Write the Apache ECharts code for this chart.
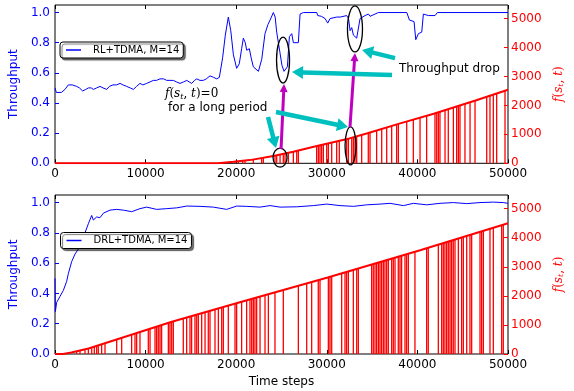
<!DOCTYPE html>
<html><head><meta charset="utf-8">
<script src="https://cdn.jsdelivr.net/npm/echarts@6/dist/echarts.min.js"></script>
<style>html,body{margin:0;padding:0;background:#fff}#c{width:574px;height:391px}</style>
</head><body><div id="c"></div>
<script>
// ---------- data ----------
const xTicks = [0, 10000, 20000, 30000, 40000, 50000];
const leftTicks = [0.0, 0.2, 0.4, 0.6, 0.8, 1.0];
const rightTicks = [0, 1000, 2000, 3000, 4000, 5000];

const rlName = 'RL+TDMA, M=14';
const drlName = 'DRL+TDMA, M=14';

const rlThroughput = [[0,0.50],[150,0.47],[330,0.46],[700,0.47],[1100,0.49],[1470,0.52],[1900,0.52],[2390,0.51],[2700,0.50],[3050,0.48],[3400,0.49],[3680,0.50],[4000,0.50],[4230,0.49],[4600,0.50],[4970,0.51],[5300,0.50],[5700,0.49],[6000,0.51],[6400,0.52],[6800,0.52],[7180,0.53],[7500,0.52],[7910,0.51],[8300,0.50],[8650,0.49],[9000,0.51],[9380,0.53],[9700,0.52],[10120,0.53],[10500,0.54],[10850,0.55],[11200,0.55],[11590,0.56],[12000,0.56],[12330,0.55],[12700,0.55],[13060,0.55],[13400,0.54],[13800,0.53],[14200,0.54],[14540,0.55],[14800,0.54],[15090,0.53],[15400,0.55],[15640,0.56],[16000,0.55],[16370,0.55],[16700,0.56],[17110,0.58],[17500,0.57],[17850,0.56],[18140,0.57],[18500,0.70],[18800,0.85],[19130,0.97],[19400,0.88],[19690,0.72],[20050,0.63],[20340,0.66],[20600,0.76],[20790,0.83],[21000,0.80],[21160,0.75],[21450,0.76],[21650,0.70],[21890,0.64],[22100,0.63],[22450,0.61],[22630,0.60],[22820,0.69],[23000,0.70],[23180,0.86],[23500,0.92],[23740,0.95],[24100,1.00],[24300,0.97],[24470,0.87],[24840,0.73],[25050,0.65],[25280,0.61],[25650,0.64],[25870,0.84],[26130,0.86],[26310,0.80],[26860,0.80],[27050,0.99],[27410,1.00],[28890,1.00],[29000,0.98],[29180,0.97],[29400,0.975],[29810,0.96],[30100,0.93],[30360,0.96],[31100,0.97],[31300,0.98],[31500,0.97],[32200,0.98],[32400,0.96],[32570,0.88],[32750,0.90],[32940,0.85],[33300,0.83],[33490,0.84],[33670,0.96],[34220,0.98],[34590,0.99],[34780,0.975],[35000,0.98],[35690,1.00],[38830,1.00],[39120,0.95],[39630,0.94],[39820,0.82],[40110,0.86],[40480,0.87],[40660,0.99],[41210,0.98],[41950,0.98],[42210,1.00],[50000,1.00]];

const drlThroughput = [[0,0.50],[40,0.28],[180,0.34],[550,0.38],[920,0.42],[1290,0.48],[1470,0.53],[1840,0.61],[2210,0.66],[2760,0.71],[3310,0.80],[3680,0.86],[4050,0.915],[4230,0.885],[4600,0.905],[4970,0.90],[5340,0.93],[6070,0.95],[6810,0.955],[7540,0.95],[8470,0.94],[9380,0.96],[10120,0.97],[11220,0.955],[12330,0.96],[13430,0.965],[14540,0.977],[16010,0.975],[17480,0.97],[18950,0.955],[20050,0.977],[21160,0.975],[22630,0.97],[23740,0.98],[24840,0.97],[26680,0.972],[28520,0.98],[29990,0.99],[31460,0.98],[32940,0.975],[34410,0.985],[35880,0.99],[36980,0.995],[38450,0.98],[39560,0.995],[41030,0.985],[42500,0.995],[43970,1.0],[45440,0.993],[46910,1.0],[48380,1.003],[49480,1.0],[50000,0.995]];

const rlEnvelope = [[0,0],[18000,0],[19700,50],[21500,110],[24100,250],[26300,400],[28900,600],[32500,860],[34400,1030],[38100,1380],[41800,1710],[46500,2180],[50000,2540]];
const drlEnvelope = [[0,0],[900,0],[1800,50],[3700,190],[7400,560],[12900,1110],[20600,1800],[30100,2630],[40300,3570],[50000,4500]];

const rlDrops = [[18770,23],[19870,56],[20240,68],[20710,84],[20970,92],[21890,131],[22810,180],[23000,190],[24280,262],[24470,275],[24840,300],[25200,325],[25390,338],[25760,363],[26310,401],[26680,429],[26860,443],[28880,598],[29070,612],[29250,625],[29430,638],[29620,652],[29990,679],[30170,692],[30540,719],[31090,759],[31380,779],[32190,838],[32380,851],[32750,882],[32930,898],[33110,915],[33300,932],[33850,981],[34580,1046],[34770,1064],[35500,1133],[36060,1186],[36610,1238],[37160,1291],[37710,1343],[37900,1361],[38820,1444],[39550,1509],[40290,1575],[41020,1640],[41940,1724],[42130,1743],[42310,1761],[42490,1779],[43050,1835],[43410,1871],[43970,1927],[44330,1963],[44520,1982],[44700,2000],[45250,2055],[45810,2111],[46360,2166],[47650,2298],[48010,2335],[48380,2373],[48750,2411],[49670,2505]];

const drlDrops = [[2390,93],[2760,121],[3310,161],[3680,189],[4050,225],[4340,254],[4600,280],[4780,298],[5150,335],[5520,372],[6810,501],[7360,556],[8460,666],[8830,703],[9010,721],[9380,758],[10300,850],[10490,869],[11040,924],[11220,942],[11400,960],[11590,979],[11770,997],[12510,1071],[12690,1089],[12880,1108],[13060,1124],[14160,1223],[14530,1256],[14900,1289],[15080,1305],[15450,1338],[15640,1355],[15820,1372],[16190,1405],[16560,1438],[16920,1470],[17110,1487],[17660,1537],[18030,1570],[18400,1603],[18580,1619],[19130,1668],[19870,1735],[20050,1751],[20600,1800],[21150,1848],[21520,1880],[21710,1897],[21890,1913],[22070,1928],[22260,1945],[22630,1977],[23180,2025],[23550,2058],[24280,2122],[25200,2202],[26860,2347],[27780,2428],[28330,2475],[29060,2539],[29250,2556],[30170,2636],[30350,2653],[30540,2671],[31640,2772],[32010,2806],[32190,2823],[32380,2840],[32930,2891],[33300,2925],[33480,2942],[34950,3077],[35130,3094],[35320,3111],[35500,3128],[35690,3145],[35870,3162],[36050,3178],[36240,3196],[36420,3213],[36610,3230],[36790,3247],[37160,3281],[37340,3298],[37530,3315],[37890,3348],[38080,3366],[38260,3382],[38630,3416],[38810,3433],[39000,3450],[39730,3517],[41020,3639],[41200,3656],[42310,3763],[42680,3798],[42860,3816],[43040,3833],[43230,3851],[43410,3868],[43600,3886],[43780,3904],[43960,3921],[44150,3939],[44520,3975],[44880,4009],[45070,4027],[45440,4063],[45800,4097],[45990,4116],[46910,4204],[47090,4221],[47280,4239],[48010,4309],[48380,4344],[49300,4432],[49480,4450]];

// annotation anchors in top-panel data coords [t, throughput]
const ellipseAnchors = [[25170,0.685],[33110,0.891],[24840,0.038],[32620,0.115]];
const magentaArrows = [[[24950,0.094],[25280,0.526]],[[32560,0.240],[33110,0.731]]];
const cyanArrows = [[[37200,0.585],[26160,0.605]],[[37530,0.698],[33890,0.751]],[[23510,0.307],[24390,0.101]],[[24390,0.340],[32340,0.241]]];
const labelAnchors = {drop:[37970,0.626], fzero:[12140,0.46], longp:[12470,0.37]};

// ---------- chart ----------
const FONT = 'DejaVu Sans';
const BLUE = '#0000ff', RED = '#ff0000';
const chart = echarts.init(document.getElementById('c'), null, {renderer:'canvas'});

const grids = [
  {left:55, top:5, width:453, height:158.3, show:true, borderColor:'#000', borderWidth:1, backgroundColor:'transparent'},
  {left:55, top:195, width:453, height:159, show:true, borderColor:'#000', borderWidth:1, backgroundColor:'transparent'}
];

function xAx(gi, pos, labels, name){
  return {
    type:'value', gridIndex:gi, position:pos, min:xTicks[0], max:xTicks[xTicks.length-1], interval:xTicks[1]-xTicks[0],
    axisLine:{show:false, onZero:false}, splitLine:{show:false},
    axisTick:{show:true, inside:true, length:4, lineStyle:{color:'#000'}},
    axisLabel:{show:labels, color:'#000', fontFamily:FONT, fontSize:12, margin:5, formatter:v=>String(v)},
    name:name||'', nameLocation:'middle', nameGap:22,
    nameTextStyle:{color:'#000', fontFamily:FONT, fontSize:12}
  };
}
function yLeft(gi){
  return {
    type:'value', gridIndex:gi, position:'left', min:0, max:1.05, interval:0.2,
    axisLine:{show:false, onZero:false, lineStyle:{color:BLUE}}, splitLine:{show:false},
    axisTick:{show:true, inside:true, length:4, lineStyle:{color:BLUE}},
    axisLabel:{color:BLUE, fontFamily:FONT, fontSize:12, margin:5, showMaxLabel:false,
      formatter:v=>leftTicks.some(t=>Math.abs(t-v)<1e-6)?v.toFixed(1):''},
    name:'Throughput', nameLocation:'middle', nameRotate:90, nameGap:26,
    nameTextStyle:{color:BLUE, fontFamily:FONT, fontSize:12}
  };
}
function yRight(gi){
  return {
    type:'value', gridIndex:gi, position:'right', min:0, max:5470, interval:1000,
    axisLine:{show:false, onZero:false, lineStyle:{color:RED}}, splitLine:{show:false},
    axisTick:{show:true, inside:true, length:4, lineStyle:{color:RED}},
    axisLabel:{color:RED, fontFamily:FONT, fontSize:12, margin:3, showMaxLabel:false,
      formatter:v=>rightTicks.indexOf(v)>=0?String(v):''},
    name:'{i|f}{n|(}{i|s}{s|t}{n|, }{i|t}{n|)}', nameLocation:'middle', nameRotate:90, nameGap:40,
    nameTextStyle:{color:RED, rich:{
      i:{fontFamily:'DejaVu Serif', fontStyle:'italic', fontSize:12, color:RED},
      n:{fontFamily:'DejaVu Serif', fontSize:12, color:RED},
      s:{fontFamily:'DejaVu Serif', fontStyle:'italic', fontSize:8, color:RED, padding:[5,0,0,0]}
    }}
  };
}

function dropRender(params, api){
  const x = api.value(0), h = api.value(1);
  const p0 = api.coord([x,0]), p1 = api.coord([x,h]);
  return {type:'line', shape:{x1:p0[0], y1:p0[1], x2:p1[0], y2:p1[1]},
    style:{stroke:RED, lineWidth:1.3}};
}

const legendBase = {
  orient:'horizontal', backgroundColor:'#fff', borderColor:'#000', borderWidth:1, borderRadius:3,
  shadowColor:'rgba(0,0,0,0.55)', shadowBlur:1, shadowOffsetX:2, shadowOffsetY:2,
  padding:[3,4,3,6], itemWidth:15, itemHeight:1.5, icon:'rect', itemGap:0,
  textStyle:{fontFamily:FONT, fontSize:10, color:'#000', padding:[0,0,0,7]}
};

chart.setOption({
  animation:false,
  backgroundColor:'#fff',
  grid:grids,
  xAxis:[xAx(0,'bottom',true), xAx(0,'top',false), xAx(1,'bottom',true,'Time steps'), xAx(1,'top',false)],
  yAxis:[yLeft(0), yRight(0), yLeft(1), yRight(1)],
  legend:[
    Object.assign({}, legendBase, {left:60, top:42, data:[{name:rlName, itemStyle:{color:BLUE}}]}),
    Object.assign({}, legendBase, {left:60.5, top:232.5, data:[{name:drlName, itemStyle:{color:BLUE}}]})
  ],
  series:[
    {name:rlName, type:'line', xAxisIndex:0, yAxisIndex:0, data:rlThroughput, symbol:'none', lineStyle:{color:BLUE, width:1}, itemStyle:{color:BLUE}, z:2},
    {name:'f_rl', type:'line', xAxisIndex:0, yAxisIndex:1, data:rlEnvelope, symbol:'none', lineStyle:{color:RED, width:2}, z:3},
    {name:'f_rl_drops', type:'custom', xAxisIndex:0, yAxisIndex:1, data:rlDrops, renderItem:dropRender, encode:{x:0,y:1}, z:3},
    {name:drlName, type:'line', xAxisIndex:2, yAxisIndex:2, data:drlThroughput, symbol:'none', lineStyle:{color:BLUE, width:1}, itemStyle:{color:BLUE}, z:2},
    {name:'f_drl', type:'line', xAxisIndex:2, yAxisIndex:3, data:drlEnvelope, symbol:'none', lineStyle:{color:RED, width:2}, z:3},
    {name:'f_drl_drops', type:'custom', xAxisIndex:2, yAxisIndex:3, data:drlDrops, renderItem:dropRender, encode:{x:0,y:1}, z:3}
  ]
});

// ---------- annotations ----------
function P(d){ return chart.convertToPixel({xAxisIndex:0, yAxisIndex:0}, d); }
function arrowPoly(a, b, w, hw, hl){
  const dx=b[0]-a[0], dy=b[1]-a[1], L=Math.hypot(dx,dy), ux=dx/L, uy=dy/L, nx=-uy, ny=ux;
  const bx=b[0]-ux*hl, by=b[1]-uy*hl;
  return [[a[0]+nx*w/2,a[1]+ny*w/2],[bx+nx*w/2,by+ny*w/2],[bx+nx*hw/2,by+ny*hw/2],[b[0],b[1]],
          [bx-nx*hw/2,by-ny*hw/2],[bx-nx*w/2,by-ny*w/2],[a[0]-nx*w/2,a[1]-ny*w/2]];
}
const ellSizes = [[6.5,23],[7.5,23],[7,9.5],[5.5,19]];
const g = [];
ellipseAnchors.forEach((e,i)=>{
  const p = P(e);
  g.push({type:'ellipse', shape:{cx:p[0], cy:p[1], rx:ellSizes[i][0], ry:ellSizes[i][1]},
    style:{fill:'none', stroke:'#000', lineWidth:1.3}, z:100});
});
magentaArrows.forEach(a=>{
  g.push({type:'polygon', shape:{points:arrowPoly(P(a[0]),P(a[1]),3,8,8)}, style:{fill:'#bf00bf'}, z:101});
});
cyanArrows.forEach(a=>{
  g.push({type:'polygon', shape:{points:arrowPoly(P(a[0]),P(a[1]),4.5,13,11)}, style:{fill:'#00bfbf'}, z:101});
});
const pd = P(labelAnchors.drop), pf = P(labelAnchors.fzero), pl = P(labelAnchors.longp);
g.push({type:'text', x:pd[0], y:pd[1], z:102, style:{text:'Throughput drop', fill:'#000', font:'12px "DejaVu Sans"', verticalAlign:'middle', align:'left'}});
g.push({type:'text', x:pf[0], y:pf[1], z:102, style:{
  text:'{i|f}{n|(}{i|s}{s|t}{n|, }{i|t}{n|)=0}', verticalAlign:'middle', align:'left',
  rich:{
    i:{fontFamily:'DejaVu Serif', fontStyle:'italic', fontSize:12, fill:'#000'},
    n:{fontFamily:'DejaVu Serif', fontSize:12, fill:'#000'},
    s:{fontFamily:'DejaVu Serif', fontStyle:'italic', fontSize:8, fill:'#000', padding:[5,0,0,0]}
  }}});
g.push({type:'text', x:pl[0], y:pl[1], z:102, style:{text:'for a long period', fill:'#000', font:'12px "DejaVu Sans"', verticalAlign:'middle', align:'left'}});
chart.setOption({graphic:g});
</script>
</body></html>
